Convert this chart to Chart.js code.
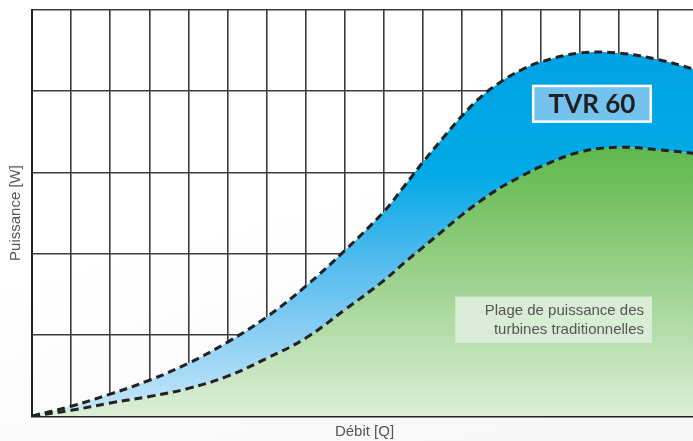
<!DOCTYPE html>
<html>
<head>
<meta charset="utf-8">
<script src="https://cdn.jsdelivr.net/npm/chart.js@4.4.1/dist/chart.umd.min.js"></script>
<style>
    html, body { margin: 0; padding: 0; overflow: hidden; }
    body { width: 693px; height: 441px; background: linear-gradient(165deg, #ffffff 45%, #f6f6f6 100%); }
    #zone { position: relative; width: 697px; height: 441px; }
</style>
</head>
<body>
<div id="zone"><canvas id="graficoPuissance" width="697" height="441"></canvas></div>
<script>
// Débit (en cases de grille) et puissances (unités = cases)
const debit = [0, 1, 2, 3, 4, 5, 6, 7, 8, 9, 9.5, 10, 10.5, 11, 11.5, 12, 12.5, 13, 14, 15, 16, 17];
const puissanceTvr60 = [0, 0.12, 0.27, 0.44, 0.65, 0.91, 1.22, 1.60, 2.04, 2.52, 2.82, 3.13, 3.42, 3.70, 3.94, 4.12, 4.26, 4.36, 4.47, 4.47, 4.39, 4.26];
const puissanceTraditionnelle = [0, 0.07, 0.16, 0.24, 0.34, 0.49, 0.71, 0.96, 1.31, 1.67, 1.88, 2.08, 2.28, 2.48, 2.66, 2.82, 2.95, 3.07, 3.25, 3.31, 3.28, 3.23];
const lignesPlage = ["Plage de puissance des", "turbines traditionnelles"];

document.addEventListener("DOMContentLoaded", function() {

    const ctx = document.getElementById("graficoPuissance").getContext("2d");

    function degradeBleu(context) {
        const area = context.chart.chartArea;
        if (!area) return "#00a3e3";
        const g = context.chart.ctx.createLinearGradient(0, area.top, 0, area.bottom);
        g.addColorStop(0, "#009fe3");
        g.addColorStop(0.4, "#00aae6");
        g.addColorStop(0.6, "#4cb9ed");
        g.addColorStop(0.8, "#8ccff4");
        g.addColorStop(1, "#c8e8f9");
        return g;
    }

    function degradeVert(context) {
        const area = context.chart.chartArea;
        if (!area) return "#5db848";
        const g = context.chart.ctx.createLinearGradient(0, area.top, 0, area.bottom);
        g.addColorStop(0.3, "#58b545");
        g.addColorStop(0.5, "#7dc46a");
        g.addColorStop(0.7, "#a3d596");
        g.addColorStop(1, "#dcefd8");
        return g;
    }

    // étiquettes "TVR 60" et plage traditionnelle, placées en unités du graphique
    const etiquettes = {
        id: "etiquettes",
        afterDraw(chart) {
            const { ctx, scales: { x, y } } = chart;
            ctx.save();

            // TVR 60
            let x0 = x.getPixelForValue(12.78), x1 = x.getPixelForValue(15.85);
            let y0 = y.getPixelForValue(4.08), y1 = y.getPixelForValue(3.61);
            ctx.fillStyle = "#ffffff";
            ctx.fillRect(x0, y0, x1 - x0, y1 - y0);
            ctx.fillStyle = "#74c3ee";
            ctx.fillRect(x0 + 2.5, y0 + 2.5, x1 - x0 - 5, y1 - y0 - 5);
            ctx.fillStyle = "#231f20";
            ctx.font = "bold 26px Lato";
            ctx.textAlign = "center";
            ctx.textBaseline = "middle";
            ctx.fillText("TVR 60", (x0 + x1) / 2, (y0 + y1) / 2 + 1);

            // Plage de puissance des turbines traditionnelles
            x0 = x.getPixelForValue(10.82); x1 = x.getPixelForValue(15.85);
            y0 = y.getPixelForValue(1.47); y1 = y.getPixelForValue(0.90);
            ctx.fillStyle = "#d9ecd5";
            ctx.fillRect(x0, y0, x1 - x0, y1 - y0);
            ctx.fillStyle = "#555555";
            ctx.font = "15px 'Liberation Sans'";
            ctx.textAlign = "right";
            ctx.textBaseline = "alphabetic";
            ctx.fillText(lignesPlage[0], x1 - 8, y0 + 18);
            ctx.fillText(lignesPlage[1], x1 - 8, y0 + 37);

            ctx.restore();
        }
    };

    new Chart(ctx, {
        type: "line",
        data: {
            datasets: [{
                    label: "TVR 60",
                    data: debit.map((d, i) => ({ x: d, y: puissanceTvr60[i] })),
                    borderColor: "#222222",
                    borderWidth: 3,
                    borderDash: [8, 5],
                    backgroundColor: degradeBleu,
                    fill: "+1",
                    pointRadius: 0,
                    tension: 0.4
                },
                {
                    label: "Turbines traditionnelles",
                    data: debit.map((d, i) => ({ x: d, y: puissanceTraditionnelle[i] })),
                    borderColor: "#222222",
                    borderWidth: 3,
                    borderDash: [8, 5],
                    backgroundColor: degradeVert,
                    fill: "origin",
                    pointRadius: 0,
                    tension: 0.4
                }
            ]
        },
        options: {
            responsive: false,
            animation: false,
            layout: { padding: { top: 10, right: 0, left: 0, bottom: 0 } },
            plugins: {
                legend: { display: false },
                tooltip: { enabled: false },
                filler: { drawTime: "beforeDatasetsDraw" }
            },
            scales: {
                x: {
                    type: "linear",
                    min: 0,
                    max: 17,
                    z: 1,
                    ticks: { display: false, stepSize: 1 },
                    grid: { color: "#3c3c3c", lineWidth: 1.6, drawTicks: false },
                    border: { color: "#222222", width: 2.5 },
                    title: {
                        display: true,
                        text: "Débit [Q]",
                        color: "#555555",
                        font: { family: "Liberation Sans", size: 15 },
                        padding: { top: 0, bottom: 0 }
                    },
                    afterFit: scale => { scale.height = 25; }
                },
                y: {
                    min: 0,
                    max: 5,
                    z: 1,
                    ticks: { display: false, stepSize: 1 },
                    grid: { color: "#3c3c3c", lineWidth: 1.6, drawTicks: false },
                    border: { color: "#222222", width: 2 },
                    title: {
                        display: true,
                        text: "Puissance [W]",
                        color: "#555555",
                        font: { family: "Liberation Sans", size: 15 },
                        padding: { top: 7, bottom: 0 }
                    },
                    afterFit: scale => { scale.width = 32; }
                }
            }
        },
        plugins: [etiquettes]
    });
});
</script>
</body>
</html>
